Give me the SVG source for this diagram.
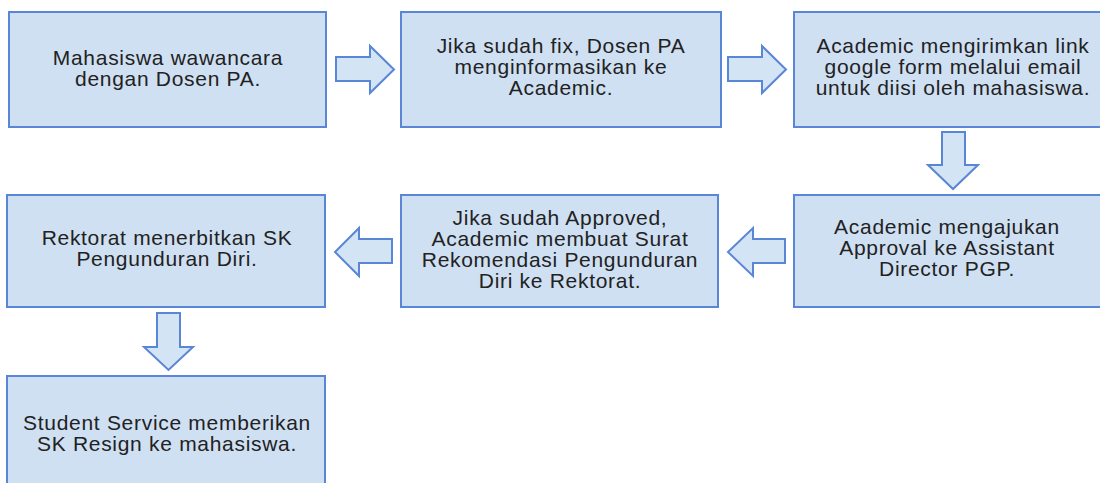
<svg xmlns="http://www.w3.org/2000/svg" width="1100" height="483" viewBox="0 0 1100 483">
  <style>
    .box { fill: #cfe0f3; stroke: #5a86d6; stroke-width: 2; }
    .arrow { fill: #d3e4f5; stroke: #5a86d6; stroke-width: 2; stroke-linejoin: miter; }
    .label { font-family: "Liberation Sans", Arial, sans-serif; font-size: 21px; letter-spacing: 0.7px; fill: #222222; text-anchor: middle; }
  </style>
  <rect width="1100" height="483" fill="#ffffff"/>

  <!-- block arrows between steps -->
  <g id="connectors">
    <path class="arrow" d="M336,57 H370 V46 L394,69.5 L370,93 V81 H336 Z"/>
    <path class="arrow" d="M728,57 H762 V46 L786,69.5 L762,93 V81 H728 Z"/>
    <path class="arrow" d="M942,132 V165 H928 L953,189 L978,165 H965 V132 Z"/>
    <path class="arrow" d="M785,239 H753 V228 L728,252 L753,276 V263 H785 Z"/>
    <path class="arrow" d="M392,239 H359 V228 L335,252 L359,276 V263 H392 Z"/>
    <path class="arrow" d="M157,313 V347 H144 L168.5,370 L193,347 H180 V313 Z"/>
  </g>

  <g id="step1">
    <rect class="box" x="9" y="12" width="317" height="115"/>
    <text class="label" x="168" y="65">Mahasiswa wawancara</text>
    <text class="label" x="168" y="86">dengan Dosen PA.</text>
  </g>

  <g id="step2">
    <rect class="box" x="401" y="12" width="320" height="115"/>
    <text class="label" x="561" y="53">Jika sudah fix, Dosen PA</text>
    <text class="label" x="561" y="74">menginformasikan ke</text>
    <text class="label" x="561" y="95">Academic.</text>
  </g>

  <g id="step3">
    <rect class="box" x="794" y="12" width="320" height="115"/>
    <text class="label" x="953" y="53">Academic mengirimkan link</text>
    <text class="label" x="953" y="74">google form melalui email</text>
    <text class="label" x="953" y="95">untuk diisi oleh mahasiswa.</text>
  </g>

  <g id="step4">
    <rect class="box" x="794" y="195" width="320" height="112"/>
    <text class="label" x="947" y="234">Academic mengajukan</text>
    <text class="label" x="947" y="255">Approval ke Assistant</text>
    <text class="label" x="947" y="276">Director PGP.</text>
  </g>

  <g id="step5">
    <rect class="box" x="401" y="195" width="317" height="112"/>
    <text class="label" x="560" y="225">Jika sudah Approved,</text>
    <text class="label" x="560" y="246">Academic membuat Surat</text>
    <text class="label" x="560" y="267">Rekomendasi Pengunduran</text>
    <text class="label" x="560" y="288">Diri ke Rektorat.</text>
  </g>

  <g id="step6">
    <rect class="box" x="7" y="195" width="318" height="112"/>
    <text class="label" x="167" y="245">Rektorat menerbitkan SK</text>
    <text class="label" x="167" y="266">Pengunduran Diri.</text>
  </g>

  <g id="step7">
    <rect class="box" x="7" y="376" width="318" height="115"/>
    <text class="label" x="167" y="430">Student Service memberikan</text>
    <text class="label" x="167" y="451">SK Resign ke mahasiswa.</text>
  </g>
</svg>
